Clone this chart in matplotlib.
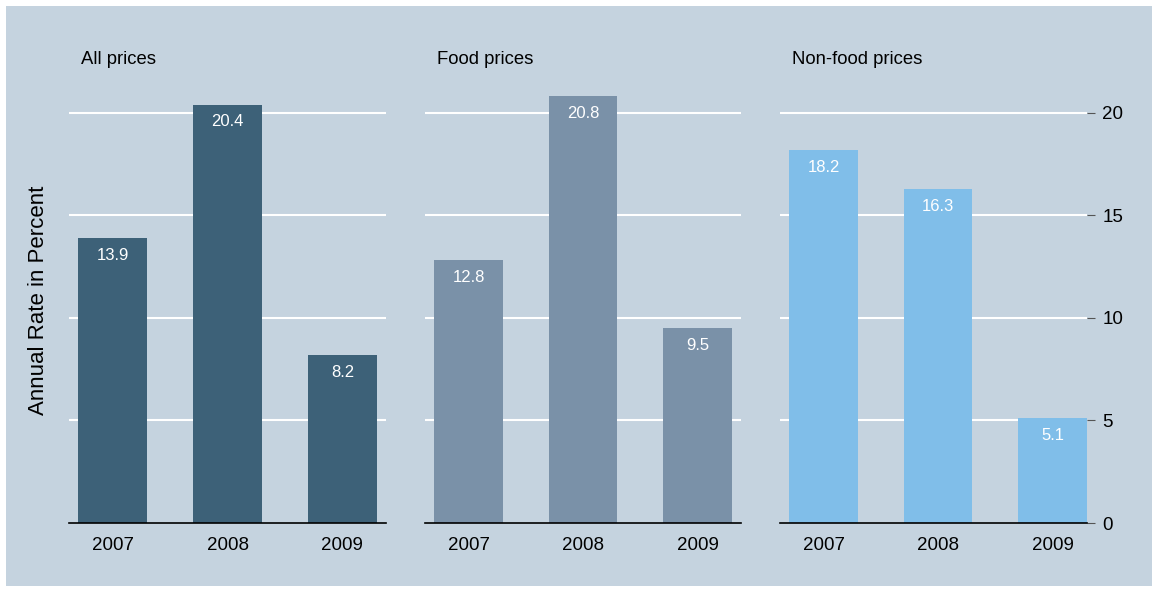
import matplotlib.pyplot as plt
from matplotlib.patches import Rectangle

plt.rcParams['font.family'] = ['Liberation Sans', 'DejaVu Sans']

#%% Data
years = ['2007', '2008', '2009']
titles = ['All prices', 'Food prices', 'Non-food prices']
all_prices = [13.9, 20.4, 8.2]
food_prices = [12.8, 20.8, 9.5]
nonfood_prices = [18.2, 16.3, 5.1]
colors = ['#3d6178', '#7a91a8', '#80bee9']
bg = '#c5d3df'

#%% Figure
W, H = 1158, 592
fig = plt.figure(figsize=(W / 100, H / 100), dpi=100, facecolor='white')
fig.patches.append(Rectangle((6 / W, 6 / H), 1146 / W, 580 / H, transform=fig.transFigure,
                             facecolor=bg, edgecolor='none', zorder=-5))

y0, y1 = 523, 82
panels = [(69, 386, 2.38), (425, 741, 2.38), (780, 1087, 2.3)]
series = [all_prices, food_prices, nonfood_prices]

for i, ((xl, xr, xmax), vals) in enumerate(zip(panels, series)):
    ax = fig.add_axes([xl / W, (H - y0) / H, (xr - xl) / W, (y0 - y1) / H])
    ax.set_facecolor('none')
    x = range(len(years))
    ax.bar(x, vals, width=0.6, color=colors[i], zorder=2)
    for xi, v in zip(x, vals):
        ax.text(xi, v - 0.85, f'{v}', color='white', ha='center', va='center',
                fontsize=12, zorder=3)
    ax.set_xlim(-0.38, xmax)
    ax.set_ylim(0, 21.5)
    ax.set_xticks(list(x))
    ax.set_xticklabels(years, fontsize=13.5)
    ax.tick_params(axis='x', length=0, pad=10)
    ax.set_yticks([0, 5, 10, 15, 20])
    for g in [5, 10, 15, 20]:
        ax.axhline(g, color='white', lw=1.5, zorder=1)
    for s in ['top', 'left', 'right']:
        ax.spines[s].set_visible(False)
    ax.spines['bottom'].set_color('black')
    ax.spines['bottom'].set_linewidth(1.2)
    if i == 2:
        ax.yaxis.tick_right()
        ax.tick_params(axis='y', length=6, color='#555555', labelsize=13.5, pad=5)
    else:
        ax.tick_params(axis='y', left=False, labelleft=False)
    ax.text((12) / (xr - xl), (y0 - 59) / (y0 - y1), titles[i], transform=ax.transAxes,
            fontsize=13.3, ha='left', va='center')

fig.text(38 / W, 1 - 300 / H, 'Annual Rate in Percent', rotation=90, fontsize=16,
         ha='center', va='center')

fig.savefig('out.png', dpi=100, facecolor=fig.get_facecolor())
